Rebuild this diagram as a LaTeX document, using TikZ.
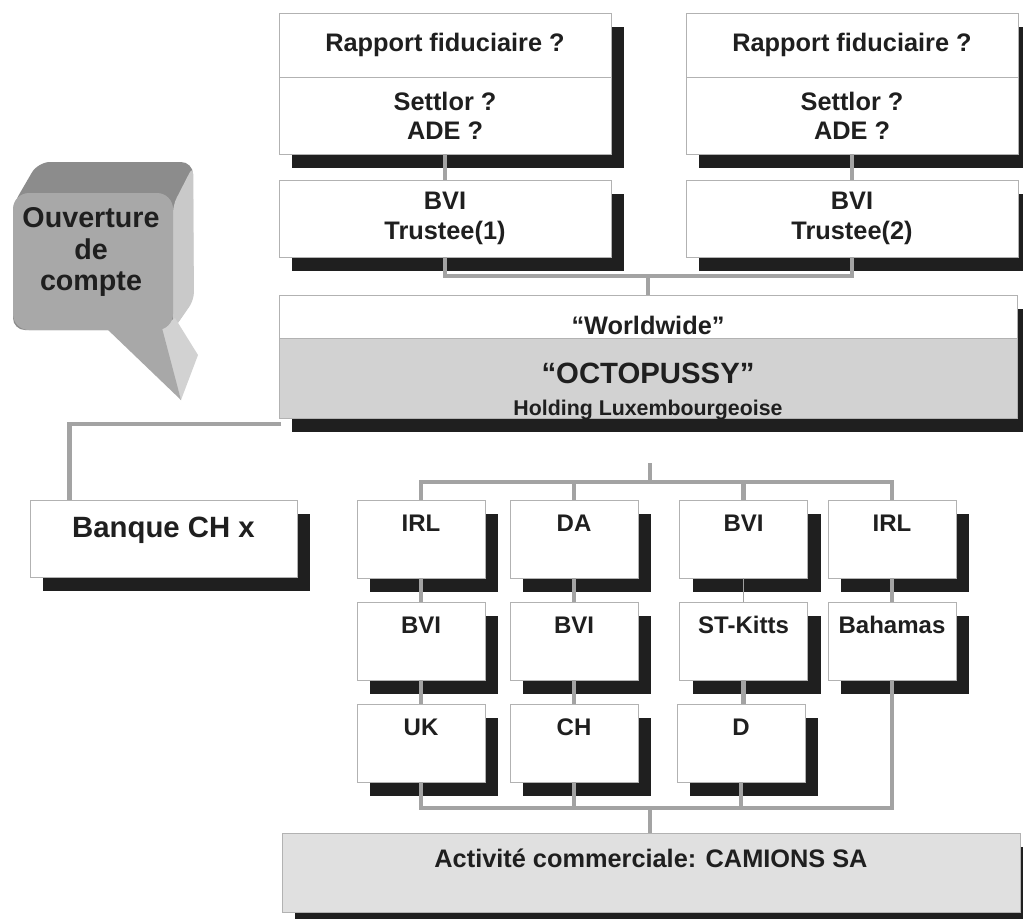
\documentclass[tikz,border=0pt]{standalone}
\usepackage{fontspec}
\setmainfont{Liberation Sans}
\usetikzlibrary{shadows}

\tikzset{
  box/.style={draw=gray!60, line width=0.6pt, fill=white, inner sep=0pt, align=center,
    text=black!88, font=\bfseries\fontsize{19}{22}\selectfont,
    general shadow={fill=black!88, shadow xshift=9.75pt, shadow yshift=-10.5pt}},
  cell/.style={box, minimum width=96pt, text height=23.25pt, text depth=35.25pt,
    font=\bfseries\fontsize{18}{21}\selectfont},
  link/.style={draw=gray!72, line width=3.2pt},
  slimlink/.style={draw=gray!75, line width=1.1pt},
}

\begin{document}
\begin{tikzpicture}[x=0.75pt,y=-0.75pt]
\path[use as bounding box, fill=white] (0,0) rectangle (1023,918);

% speech bubble
\fill[gray!90, rounded corners=9pt] (13,205) -- (38,162) -- (193,162) -- (193,300) -- (173,330) -- (13,330) -- cycle;
\fill[gray!42, rounded corners=6pt] (173,205) -- (193,166) -- (194,300) -- (173,330) -- cycle;
\fill[gray!35] (160,328) -- (175,318) -- (198,355) -- (181,400) -- cycle;
\fill[gray!68] (106,328) -- (181,400) -- (162,328) -- cycle;
\fill[gray!68, rounded corners=12pt] (13,193) rectangle (173,330);
\node[align=center, text=black!88, font=\bfseries\fontsize{21.5}{23.5}\selectfont] (bubble) at (91,252) {Ouverture\\de\\compte};

% trusts
\node[box, minimum width=249pt, minimum height=48pt] (rapA) at (445,45) {Rapport fiduciaire ?};
\node[box, minimum width=249pt, minimum height=57.75pt] (setA) at (445,115.5) {Settlor ?\\ADE ?};
\node[box, minimum width=249pt, minimum height=57.75pt] (truA) at (445,218.5) {BVI\\Trustee(1)};
\node[box, minimum width=249pt, minimum height=48pt] (rapB) at (852,45) {Rapport fiduciaire ?};
\node[box, minimum width=249pt, minimum height=57.75pt] (setB) at (852,115.5) {Settlor ?\\ADE ?};
\node[box, minimum width=249pt, minimum height=57.75pt] (truB) at (852,218.5) {BVI\\Trustee(2)};

% holding
\node[box, minimum width=553.5pt, text height=29.25pt, text depth=3pt] (world) at (648,316.5) {``Worldwide''};
\node[box, fill=gray!35, minimum width=553.5pt, text height=33.75pt, text depth=26.25pt,
  font=\bfseries\fontsize{22}{24}\selectfont] (octo) at (648,378) {``OCTOPUSSY''};
\node[anchor=base, inner sep=0pt, text=black!88, font=\bfseries\fontsize{16}{18}\selectfont] (holding) at (648,415) {Holding Luxembourgeoise};

% bank
\node[box, minimum width=200.25pt, text height=27.75pt, text depth=30pt,
  font=\bfseries\fontsize{22}{24}\selectfont] (banque) at (163.5,538.5) {Banque CH x};

% subsidiaries
\foreach \name/\x/\y/\txt in {c11/421/539/IRL, c21/574/539/DA, c31/743.5/539/BVI, c41/892/539/IRL,
  c12/421/641/BVI, c22/574/641/BVI, c32/743.5/641/ST-Kitts, c42/892/641/Bahamas,
  c13/421/743/UK, c23/574/743/CH, c33/741/743/D}
  \node[cell] (\name) at (\x,\y) {\txt};

\node[box, fill=gray!24, minimum width=553.5pt, text height=25.5pt, text depth=33.75pt] (camions) at (651,872.5) {Activit\'e commerciale: CAMIONS SA};

% links
\coordinate (topbar) at (648,276);
\coordinate (octoleft) at (281,424);
\coordinate (gridtop) at (650,463);
\coordinate (gridbar) at (650,482);
\coordinate (lowbar) at (650,808);

\draw[link] (setA) -- (truA);
\draw[link] (setB) -- (truB);
\draw[link] (truA.south) |- (topbar) -| (truB.south);
\draw[link] (topbar) -- (world.north);

\draw[link] (octoleft) -| ([xshift=30pt]banque.north west);

\draw[link] (gridtop) -- (gridbar);
\draw[link] (c11.north) |- (gridbar) -| (c41.north);
\draw[link] (c21.north) -- (c21 |- gridbar);
\draw[link] (c31.north) -- (c31 |- gridbar);

\draw[link] (c11) -- (c12);
\draw[link] (c12) -- (c13);
\draw[link] (c21) -- (c22);
\draw[link] (c22) -- (c23);
\draw[slimlink] (c31) -- (c32);
\draw[link] (c32.south) -- (c32.south |- c33.north);
\draw[link] (c41) -- (c42);

\draw[link] (c13.south) |- (lowbar) -| (c42.south);
\draw[link] (c23.south) -- (c23 |- lowbar);
\draw[link] (c33.south) -- (c33 |- lowbar);
\draw[link] (lowbar) -- (lowbar |- camions.north);

\end{tikzpicture}
\end{document}
